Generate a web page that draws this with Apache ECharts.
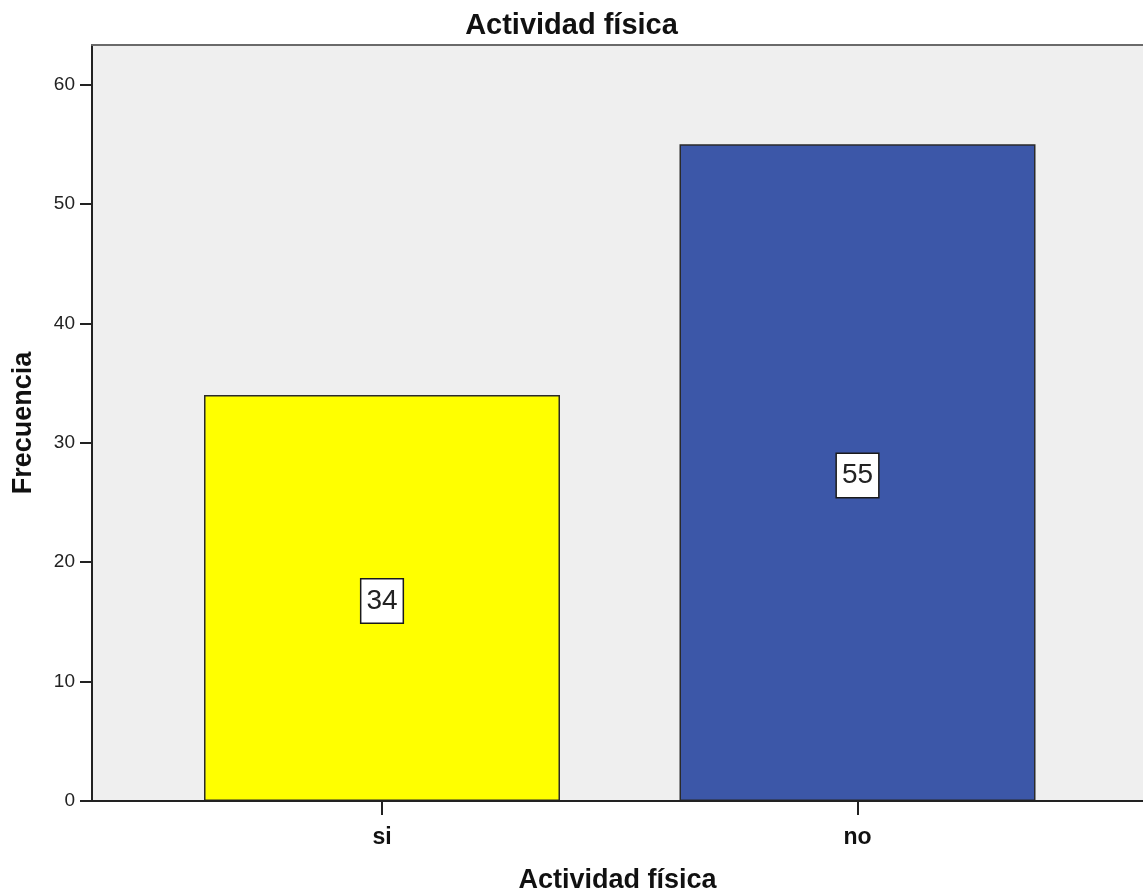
<!DOCTYPE html>
<html>
<head>
<meta charset="utf-8">
<script src="https://cdn.jsdelivr.net/npm/echarts@6/dist/echarts.min.js"></script>
<style>
html,body{margin:0;padding:0;background:#fff;}
#chart{width:1143px;height:896px;}
</style>
</head>
<body>
<div id="chart"></div>
<script>
const chartTitle = 'Actividad física';
const xAxisName = 'Actividad física';
const yAxisName = 'Frecuencia';
const categories = ['si', 'no'];
const frequencies = [34, 55];
const yTicks = [0, 10, 20, 30, 40, 50, 60];
const barColors = ['#ffff00', '#3c57a8'];

const FONT = '"Liberation Sans", Arial, sans-serif';
const chart = echarts.init(document.getElementById('chart'), null, {renderer: 'canvas'});

const option = {
  animation: false,
  backgroundColor: '#ffffff',
  title: {
    text: chartTitle,
    left: 'center',
    top: 11,
    padding: 0,
    textStyle: {fontFamily: FONT, fontSize: 29, fontWeight: 'bold', color: '#111'}
  },
  grid: [
    {left: 92, top: 45, right: 0, bottom: 95, show: true, backgroundColor: '#efefef', borderWidth: 0,
     outerBoundsMode: 'none', containLabel: false},
    {left: 144.25, top: 45, right: 47.75, bottom: 95, outerBoundsMode: 'none', containLabel: false}
  ],
  xAxis: [
    {
      gridIndex: 0, type: 'value', min: 0, max: 1, z: 10,
      axisLine: {show: true, lineStyle: {color: '#222', width: 2}},
      axisTick: {show: false}, axisLabel: {show: false}, splitLine: {show: false},
      name: xAxisName, nameLocation: 'middle', nameGap: 66,
      nameTextStyle: {fontFamily: FONT, fontSize: 27, fontWeight: 'bold', color: '#111'}
    },
    {
      gridIndex: 1, type: 'category', data: categories,
      axisLine: {show: false},
      axisTick: {show: true, alignWithLabel: true, length: 14, lineStyle: {color: '#222', width: 2}},
      axisLabel: {margin: 25, fontFamily: FONT, fontSize: 23, fontWeight: 'bold', color: '#111'},
      splitLine: {show: false}
    },
    {
      gridIndex: 0, type: 'value', min: 0, max: 1, position: 'top', z: 10,
      axisLine: {show: true, lineStyle: {color: '#6a6a6a', width: 2}},
      axisTick: {show: false}, axisLabel: {show: false}, splitLine: {show: false}
    }
  ],
  yAxis: [
    {
      gridIndex: 0, type: 'value', min: 0, max: 63.3, interval: 10, z: 10,
      axisLine: {show: true, lineStyle: {color: '#222', width: 2}},
      axisTick: {show: true, length: 12, customValues: yTicks, lineStyle: {color: '#222', width: 2}},
      axisLabel: {customValues: yTicks, margin: 17, fontFamily: FONT, fontSize: 19, color: '#222', padding: [6, 0, 0, 0]},
      splitLine: {show: false},
      name: yAxisName, nameLocation: 'middle', nameGap: 55, nameRotate: 90,
      nameTextStyle: {fontFamily: FONT, fontSize: 27, fontWeight: 'bold', color: '#111'}
    },
    {
      gridIndex: 1, type: 'value', min: 0, max: 63.3, show: false
    }
  ],
  series: [
    {
      type: 'bar',
      xAxisIndex: 1, yAxisIndex: 1,
      barWidth: 356,
      data: frequencies.map((v, i) => ({value: v, itemStyle: {color: barColors[i]}})),
      itemStyle: {borderColor: '#2a2a2a', borderWidth: 1.5},
      label: {
        show: true, position: 'inside', offset: [0, 3],
        fontFamily: FONT, fontSize: 28, color: '#222',
        backgroundColor: '#ffffff', borderColor: '#1a1a1a', borderWidth: 1.5,
        padding: [6, 5, 5, 5], lineHeight: 32
      }
    }
  ]
};
chart.setOption(option);
</script>
</body>
</html>
